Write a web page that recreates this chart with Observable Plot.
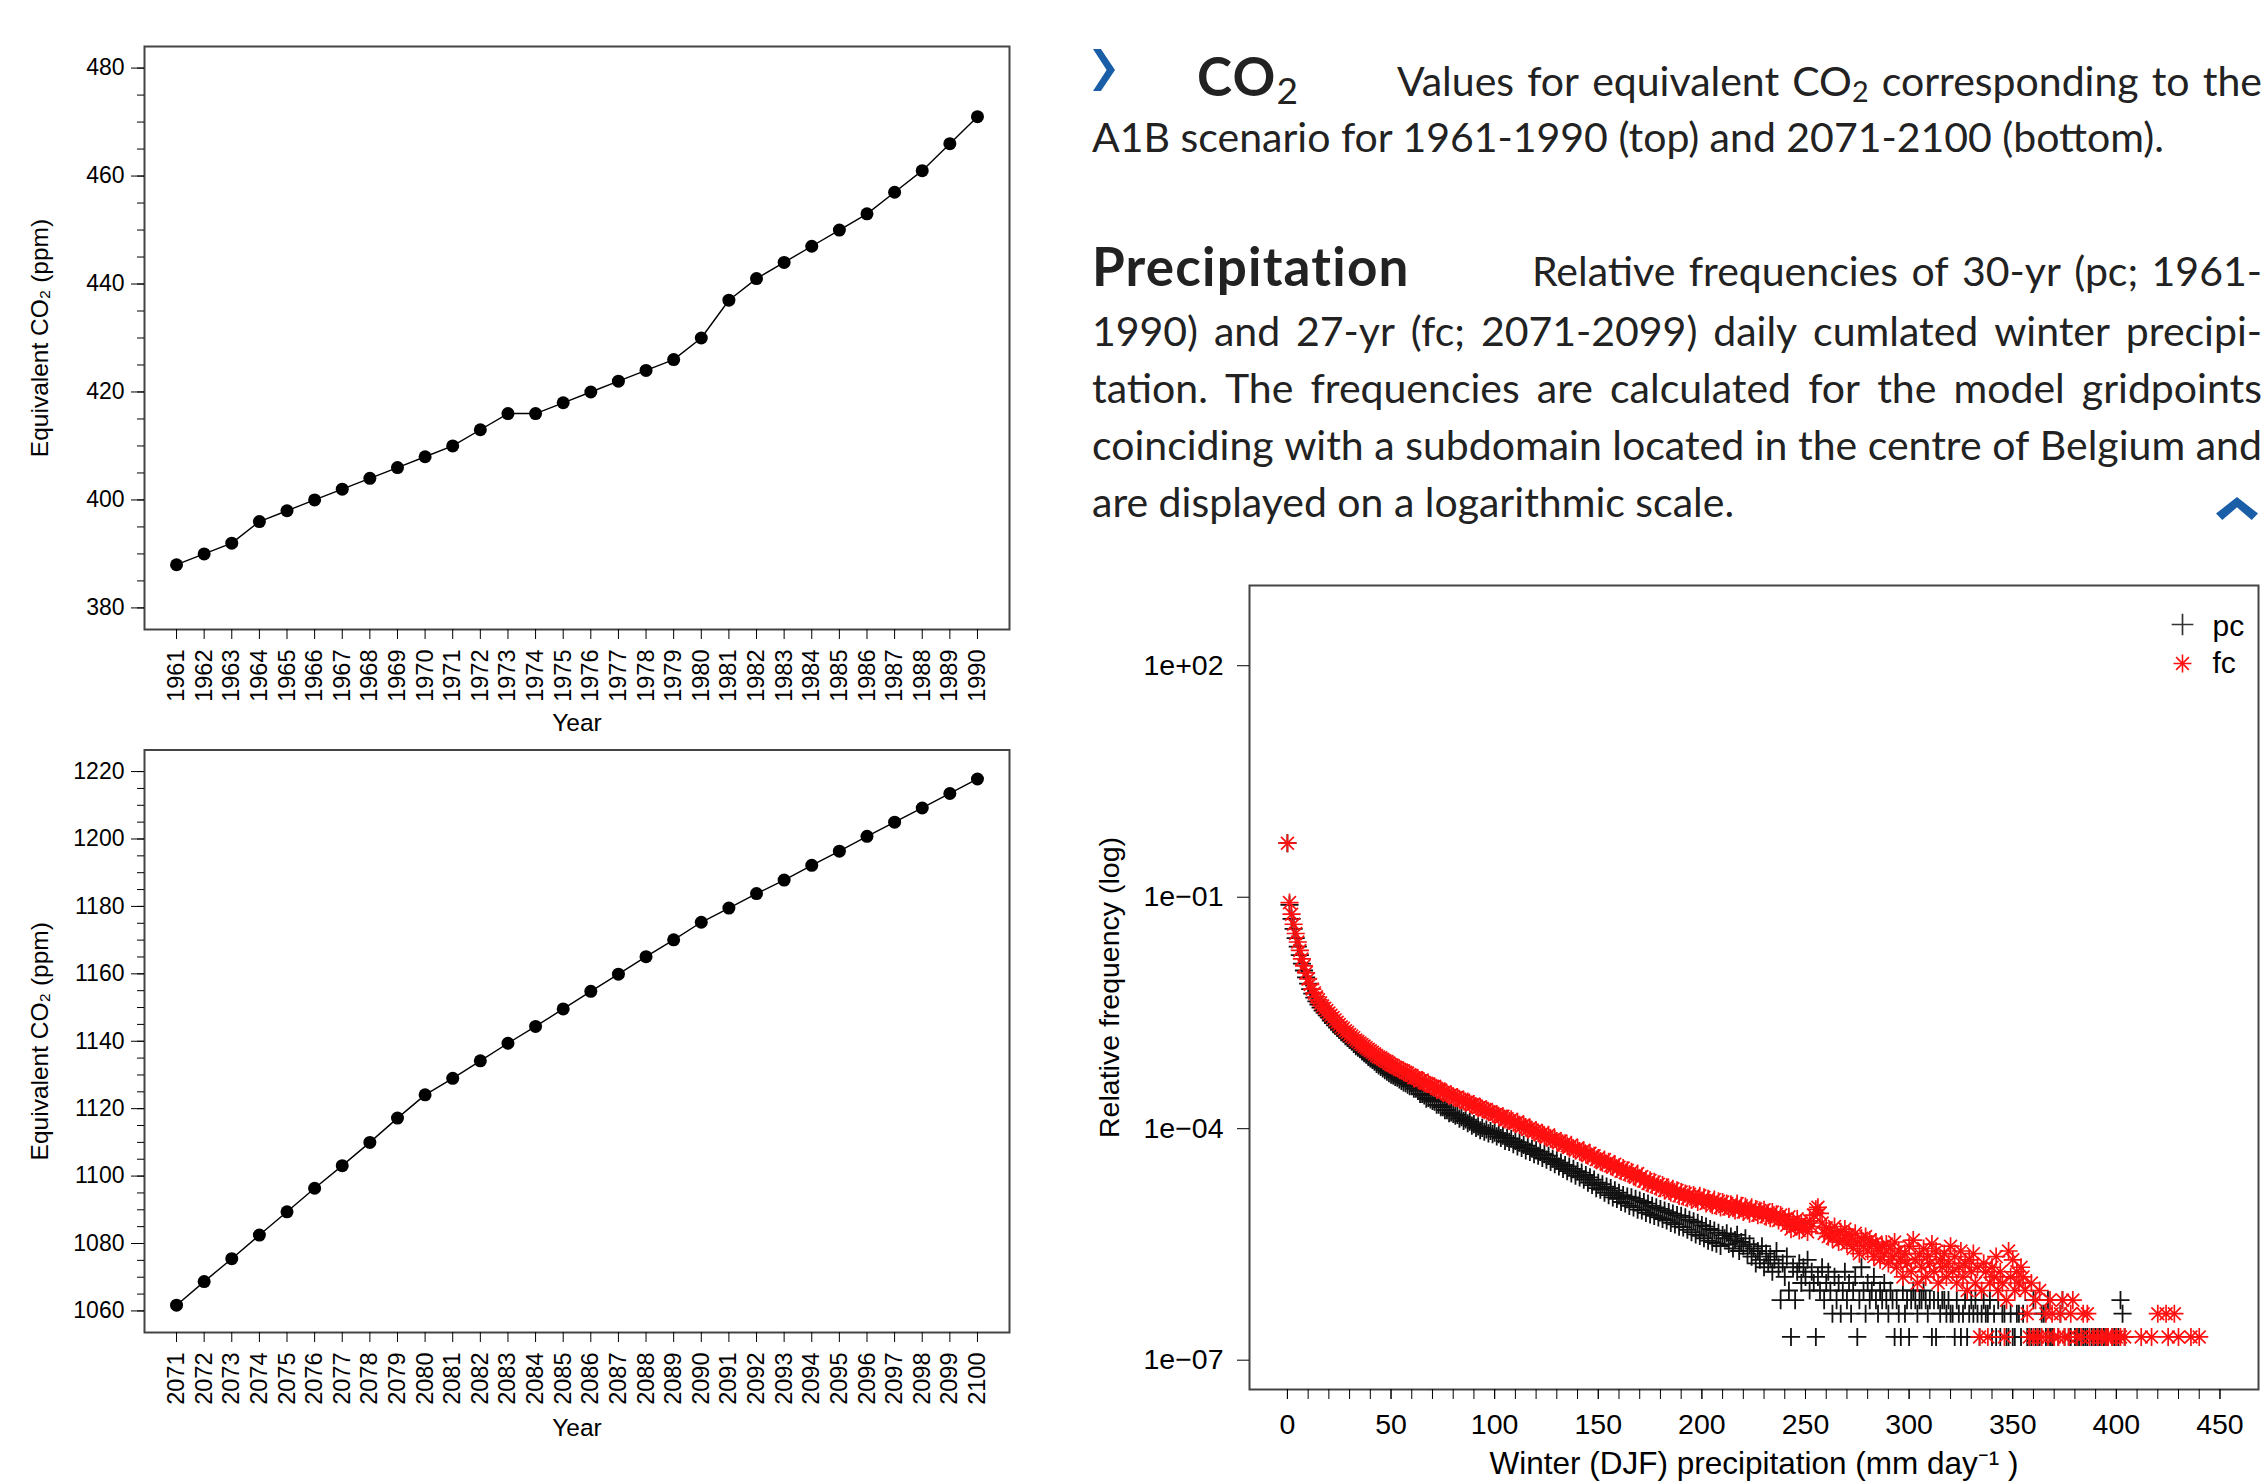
<!DOCTYPE html>
<html><head><meta charset="utf-8">
<script src="https://cdn.jsdelivr.net/npm/d3@7"></script>
<script src="https://cdn.jsdelivr.net/npm/@observablehq/plot@0.6"></script>
<style>
html,body{margin:0;padding:0;background:#fff;}
#page{position:relative;width:2262px;height:1484px;overflow:hidden;background:#fff;}
.abs{position:absolute;}
.txt{position:absolute;font-family:Lato,'Open Sans',sans-serif;font-size:41px;line-height:41px;color:#222;white-space:nowrap;}
.head{font-weight:700;font-size:53px;line-height:53px;letter-spacing:1.2px;}
.just{display:flex;justify-content:space-between;}
sub{font-size:0.7em;vertical-align:-0.22em;line-height:0;font-weight:400;letter-spacing:0;}
.chev{position:absolute;background:#1a5ea8;clip-path:polygon(0 0,36% 0,100% 50%,36% 100%,0 100%,62% 50%);}
.upchev{position:absolute;background:#1a5ea8;clip-path:polygon(0 72%,50% 0,100% 72%,85% 100%,50% 45%,15% 100%);}
</style></head>
<body><div id="page">
<div class="chev" style="left:1093px;top:49px;width:22px;height:42px;"></div>
<div class="txt head" style="left:1197px;top:49px;">CO<sub>2</sub></div>
<div class="txt just" style="left:1397px;top:59.6px;width:865px;">Values for equivalent CO<sub>2</sub> corresponding to the</div>
<div class="txt" style="left:1092px;top:115.6px;">A1B scenario for 1961-1990 (top) and 2071-2100 (bottom).</div>
<div class="txt head" style="left:1092px;top:239px;">Precipitation</div>
<div class="txt just" style="left:1532px;top:249.6px;width:730px;">Relative frequencies of 30-yr (pc; 1961-</div>
<div class="txt just" style="left:1092px;top:309.6px;width:1170px;">1990) and 27-yr (fc; 2071-2099) daily cumlated winter precipi-</div>
<div class="txt just" style="left:1092px;top:366.6px;width:1170px;">tation. The frequencies are calculated for the model gridpoints</div>
<div class="txt just" style="left:1092px;top:423.6px;width:1170px;">coinciding with a subdomain located in the centre of Belgium and</div>
<div class="txt" style="left:1092px;top:480.6px;">are displayed on a logarithmic scale.</div>
<div class="upchev" style="left:2216px;top:497px;width:42px;height:23px;"></div>
<div id="c1" class="abs" style="left:0;top:0;width:1050px;height:740px;"></div>
<div id="c2" class="abs" style="left:0;top:700px;width:1050px;height:784px;"></div>
<div id="c3" class="abs" style="left:1080px;top:560px;width:1182px;height:924px;"></div>
</div>
<script>
// ---------- CO2 data ----------
const topYears = [1961,1962,1963,1964,1965,1966,1967,1968,1969,1970,1971,1972,1973,1974,1975,1976,1977,1978,1979,1980,1981,1982,1983,1984,1985,1986,1987,1988,1989,1990];
const topCO2 = [388,390,392,396,398,400,402,404,406,408,410,413,416,416,418,420,422,424,426,430,437,441,444,447,450,453,457,461,466,471];
const bottomYears = [2071,2072,2073,2074,2075,2076,2077,2078,2079,2080,2081,2082,2083,2084,2085,2086,2087,2088,2089,2090,2091,2092,2093,2094,2095,2096,2097,2098,2099,2100];
const bottomCO2 = [1061.7,1068.7,1075.5,1082.5,1089.4,1096.4,1103.1,1110.0,1117.2,1124.1,1129.0,1134.2,1139.4,1144.4,1149.6,1154.8,1159.9,1165.1,1170.1,1175.3,1179.5,1183.8,1187.8,1192.2,1196.4,1200.8,1205.0,1209.2,1213.5,1217.8];
const topMajorTicks = [380,400,420,440,460,480];
const topMinorTicks = [380,385,390,395,400,405,410,415,420,425,430,435,440,445,450,455,460,465,470,475,480];
const bottomMajorTicks = [1060,1080,1100,1120,1140,1160,1180,1200,1220];
const bottomMinorTicks = [1060,1065,1070,1075,1080,1085,1090,1095,1100,1105,1110,1115,1120,1125,1130,1135,1140,1145,1150,1155,1160,1165,1170,1175,1180,1185,1190,1195,1200,1205,1210,1215,1220];
const co2Label = "Equivalent CO₂ (ppm)";
const yearLabel = "Year";

// ---------- Precipitation data (log10 relative frequency, one value per mm, from 0) ----------
const pcDense = [
-0.30,-1.10,-1.28,-1.41,-1.53,-1.64,-1.75,-1.86,-1.95,-2.04,
-2.12,-2.19,-2.25,-2.30,-2.35,-2.39,-2.43,-2.47,-2.50,-2.53,
-2.56,-2.60,-2.63,-2.66,-2.69,-2.72,-2.75,-2.77,-2.80,-2.82,
-2.85,-2.87,-2.90,-2.93,-2.95,-2.97,-3.00,-3.02,-3.04,-3.07,
-3.09,-3.11,-3.13,-3.16,-3.18,-3.20,-3.22,-3.24,-3.26,-3.28,
-3.30,-3.31,-3.33,-3.34,-3.36,-3.38,-3.40,-3.41,-3.43,-3.45,
-3.45,-3.48,-3.48,-3.51,-3.55,-3.55,-3.57,-3.61,-3.60,-3.62,
-3.64,-3.65,-3.69,-3.69,-3.72,-3.72,-3.76,-3.76,-3.80,-3.79,
-3.81,-3.83,-3.82,-3.87,-3.85,-3.90,-3.88,-3.93,-3.91,-3.96,
-3.94,-3.99,-3.97,-4.02,-3.99,-4.04,-4.01,-4.06,-4.03,-4.07,
-4.05,-4.10,-4.07,-4.12,-4.09,-4.16,-4.12,-4.17,-4.13,-4.20,
-4.16,-4.23,-4.18,-4.25,-4.21,-4.28,-4.22,-4.30,-4.26,-4.33,
-4.28,-4.35,-4.30,-4.38,-4.33,-4.40,-4.35,-4.43,-4.39,-4.46,
-4.41,-4.49,-4.44,-4.52,-4.47,-4.55,-4.49,-4.58,-4.52,-4.61,
-4.55,-4.63,-4.57,-4.66,-4.60,-4.70,-4.63,-4.73,-4.66,-4.77,
-4.70,-4.79,-4.72,-4.83,-4.75,-4.86,-4.77,-4.89,-4.80,-4.91,
-4.83,-4.95,-4.86,-4.97,-4.88,-5.00,-4.89,-5.02,-4.91,-5.05,
-4.93,-5.06,-4.95,-5.09,-4.97,-5.11,-5.00,-5.13,-5.02,-5.15,
-5.04,-5.17,-5.06,-5.19,-5.08,-5.22,-5.10,-5.24,-5.12,-5.27,
-5.13,-5.28,-5.15,-5.31,-5.18,-5.34,-5.20,-5.37,-5.22,-5.39,
-5.25,-5.42,-5.27,-5.45,-5.30,-5.47,-5.32,-5.49,-5.35,-5.52,-5.38];
const fcDense = [
-0.30,-1.07,-1.22,-1.35,-1.47,-1.58,-1.69,-1.80,-1.89,-1.98,
-2.06,-2.13,-2.19,-2.24,-2.29,-2.33,-2.37,-2.41,-2.44,-2.47,
-2.50,-2.53,-2.56,-2.59,-2.62,-2.65,-2.68,-2.70,-2.73,-2.75,
-2.78,-2.80,-2.82,-2.85,-2.87,-2.89,-2.91,-2.93,-2.95,-2.97,
-2.99,-3.01,-3.03,-3.05,-3.07,-3.08,-3.10,-3.12,-3.13,-3.15,
-3.17,-3.18,-3.20,-3.21,-3.23,-3.24,-3.25,-3.27,-3.28,-3.30,
-3.31,-3.34,-3.34,-3.35,-3.38,-3.37,-3.40,-3.41,-3.42,-3.44,
-3.45,-3.45,-3.48,-3.49,-3.50,-3.53,-3.52,-3.55,-3.57,-3.56,
-3.58,-3.60,-3.59,-3.62,-3.63,-3.63,-3.66,-3.65,-3.68,-3.69,
-3.68,-3.71,-3.73,-3.72,-3.74,-3.76,-3.75,-3.78,-3.78,-3.80,
-3.82,-3.81,-3.84,-3.85,-3.84,-3.88,-3.87,-3.90,-3.88,-3.92,
-3.93,-3.91,-3.95,-3.97,-3.95,-3.98,-4.01,-3.99,-4.02,-4.04,
-4.02,-4.05,-4.08,-4.06,-4.09,-4.11,-4.08,-4.13,-4.15,-4.13,
-4.16,-4.18,-4.16,-4.21,-4.19,-4.22,-4.24,-4.21,-4.26,-4.28,
-4.25,-4.29,-4.31,-4.28,-4.33,-4.35,-4.32,-4.37,-4.35,-4.40,
-4.38,-4.42,-4.44,-4.40,-4.46,-4.43,-4.48,-4.50,-4.46,-4.52,
-4.50,-4.55,-4.51,-4.57,-4.54,-4.59,-4.56,-4.61,-4.63,-4.58,
-4.65,-4.62,-4.68,-4.66,-4.71,-4.67,-4.73,-4.69,-4.75,-4.72,
-4.77,-4.73,-4.80,-4.76,-4.79,-4.83,-4.78,-4.84,-4.80,-4.87,
-4.82,-4.88,-4.84,-4.90,-4.85,-4.92,-4.86,-4.91,-4.95,-4.87,
-4.93,-4.89,-4.97,-4.91,-4.96,-4.99,-4.92,-5.00,-4.94,-5.02,
-4.95,-5.01,-4.97,-5.04,-4.98,-5.03,-5.06,-4.97,-5.05,-5.00,
-5.08,-5.01,-5.06,-5.10,-5.02,-5.09,-5.04,-5.12,-5.06,-5.11,
-5.05,-5.14,-5.09,-5.16,-5.08,-5.15,-5.11,-5.19,-5.12,-5.17];
// sparse tails: [precipitation (mm/day), number of days]; one day = unitFreq
const unitFreq = 2.0e-7;
const pcTail = [[211,19],[212,22],[213,16],[214,20],[215,14],[216,18],[217,21],[218,13],[219,17],[220,15],
[221,19],[222,12],[223,16],[224,11],[225,14],[226,9],[227,13],[228,10],[229,15],[230,8],
[231,12],[232,9],[233,11],[234,7],[235,10],[236,13],[237,8],[238,3],[239,9],[240,6],
[241,11],[242,4],[243,1],[244,8],[245,3],[246,7],[247,9],[248,5],[249,8],[250,6],
[251,10],[252,4],[253,7],[254,5],[255,1],[256,6],[257,4],[258,8],[259,3],[260,5],
[261,7],[262,4],[263,2],[264,6],[265,3],[266,5],[267,2],[268,4],[269,7],[270,3],
[271,5],[272,2],[273,4],[274,6],[275,1],[276,3],[277,8],[278,4],[279,2],[280,5],
[281,3],[282,4],[283,6],[284,3],[285,2],[286,4],[287,3],[288,5],[289,3],[290,2],
[291,4],[292,3],[293,1],[294,3],[295,2],[296,1],[297,4],[298,2],[299,3],[300,1],
[301,3],[302,4],[303,3],[304,2],[305,3],[306,3],[307,4],[308,3],[309,2],[310,3],
[311,1],[312,3],[313,1],[314,3],[315,2],[316,3],[317,3],[318,2],[319,3],[320,2],
[321,2],[322,1],[323,3],[324,2],[325,1],[326,2],[327,3],[328,1],[329,2],[330,3],
[331,2],[332,3],[333,2],[334,1],[335,2],[336,3],[337,2],[338,2],[339,3],[340,1],
[341,2],[342,1],[343,3],[344,1],[345,2],[346,2],[347,1],[348,1],[349,2],[350,1],
[351,1],[352,2],[353,2],[354,1],[355,2],[357,1],[358,1],[359,1],[360,3],[361,1],
[362,1],[363,1],[364,2],[365,2],[366,1],[367,3],[368,1],[369,1],[370,1],[372,1],
[373,2],[374,3],[375,1],[377,1],[378,1],[380,1],[381,1],[382,1],[384,1],[385,1],
[386,1],[388,1],[389,1],[390,1],[391,1],[392,1],[394,1],[395,1],[396,1],[398,1],
[399,1],[400,1],[401,1],[402,3],[403,2],[404,1]];
const fcTail = [[240,33],[241,28],[242,36],[243,25],[244,31],[245,27],[246,34],[247,24],[248,30],[249,26],
[250,29],[251,23],[252,32],[253,27],[254,38],[255,45],[256,48],[257,40],[258,30],[259,22],
[260,26],[261,20],[262,24],[263,19],[264,27],[265,21],[266,17],[267,23],[268,18],[269,25],
[270,16],[271,21],[272,19],[273,14],[274,22],[275,17],[276,12],[277,19],[278,15],[279,20],
[280,13],[281,18],[282,16],[283,11],[284,17],[285,14],[286,10],[287,15],[288,12],[289,16],
[290,9],[291,14],[292,11],[293,17],[294,8],[295,13],[296,10],[297,6],[298,12],[299,9],
[300,15],[301,7],[302,18],[303,10],[304,5],[305,12],[306,8],[307,14],[308,6],[309,11],
[310,9],[311,16],[312,7],[313,13],[314,5],[315,10],[316,8],[317,12],[318,6],[319,9],
[320,15],[321,7],[322,11],[323,5],[324,8],[325,13],[326,6],[327,9],[328,4],[329,10],
[330,7],[331,12],[332,5],[333,8],[334,1],[335,4],[336,9],[337,7],[338,1],[339,5],
[340,8],[341,6],[342,11],[343,4],[344,7],[345,5],[346,1],[347,3],[348,13],[349,6],
[350,10],[351,4],[352,7],[353,5],[354,8],[355,6],[356,4],[357,2],[358,1],[359,5],
[360,1],[361,3],[362,1],[363,4],[364,1],[366,2],[367,1],[368,3],[369,2],[370,1],
[372,1],[373,2],[374,3],[375,1],[377,1],[378,2],[379,3],[381,1],[383,1],[384,2],
[386,2],[387,1],[389,1],[391,1],[393,1],[395,1],[396,1],[398,1],[400,1],[402,1],
[404,1],[412,1],[417,1],[420,2],[424,2],[425,1],[428,2],[430,1],[436,1],[440,1]];
const precipXTicks = [0,50,100,150,200,250,300,350,400,450];
const precipYTicks = [1e2,1e-1,1e-4,1e-7];
const precipYTickLabels = ["1e+02","1e\u221201","1e\u221204","1e\u221207"];
const precipXLabel = "Winter (DJF) precipitation (mm day\u207B\u00B9 )";
const precipYLabel = "Relative frequency (log)";
const legendLabels = ["pc","fc"];

// ---------- text justification ----------
document.querySelectorAll('.just').forEach(el => {
  const words = el.innerHTML.trim().split(/\s+/);
  el.innerHTML = words.map(w => `<span>${w}</span>`).join('');
});

// ---------- CO2 charts ----------
function co2Chart({years, values, yDomain, xDomain, majors, minors, height, marginTop, marginBottom, yearDy}) {
  const data = years.map((year, i) => ({year, value: values[i]}));
  return Plot.plot({
    width: 1050, height, marginLeft: 144, marginRight: 41, marginTop, marginBottom,
    style: "font-family:'Liberation Sans',Arial,sans-serif;font-size:23px;color:#000;background:transparent;max-width:none;overflow:visible;",
    x: {domain: xDomain},
    y: {domain: yDomain},
    marks: [
      Plot.frame({stroke: "#444", strokeWidth: 2}),
      Plot.axisY(minors, {tickSize: 7, tickFormat: () => "", label: null}),
      Plot.axisY(majors, {tickSize: 13, tickPadding: 7, tickFormat: d => String(d), label: null}),
      Plot.axisX(years, {tickSize: 10, tickPadding: 10, tickRotate: -90, fontSize: 23.5, tickFormat: d => String(d), label: null}),
      Plot.text([co2Label], {frameAnchor: "left", dx: -104, rotate: -90, fontSize: 24.5, textAnchor: "middle", lineAnchor: "middle"}),
      Plot.text([yearLabel], {frameAnchor: "bottom", dy: yearDy, fontSize: 24.5, textAnchor: "middle", lineAnchor: "middle"}),
      Plot.line(data, {x: "year", y: "value", stroke: "#000", strokeWidth: 1.4}),
      Plot.dot(data, {x: "year", y: "value", r: 6.5, fill: "#000", stroke: "none"})
    ]
  });
}
document.getElementById("c1").append(co2Chart({
  years: topYears, values: topCO2, yDomain: [376, 484], xDomain: [1959.84, 1991.16],
  majors: topMajorTicks, minors: topMinorTicks, height: 740, marginTop: 46, marginBottom: 111, yearDy: 94
}));
document.getElementById("c2").append(co2Chart({
  years: bottomYears, values: bottomCO2, yDomain: [1053.6, 1226.4], xDomain: [2069.84, 2101.16],
  majors: bottomMajorTicks, minors: bottomMinorTicks, height: 784, marginTop: 49.5, marginBottom: 152, yearDy: 96
}));

// ---------- Precipitation chart ----------
const pcPoints = pcDense.map((v, i) => ({x: i, f: Math.pow(10, v)}))
  .concat(pcTail.map(([x, k]) => ({x, f: k * unitFreq})));
const fcPoints = fcDense.map((v, i) => ({x: i, f: Math.pow(10, v)}))
  .concat(fcTail.map(([x, k]) => ({x, f: k * unitFreq})));
const minorX = d3.range(0, 451, 10);

const red = "#ff1010";
const precip = Plot.plot({
  width: 1182, height: 924, marginLeft: 169, marginRight: 4, marginTop: 25, marginBottom: 95,
  style: "font-family:'Liberation Sans',Arial,sans-serif;font-size:28.5px;color:#000;background:transparent;max-width:none;overflow:visible;",
  x: {domain: [-18.3, 468.6]},
  y: {type: "log", domain: [Math.pow(10, -7.38), Math.pow(10, 3.04)]},
  marks: [
    Plot.frame({stroke: "#444", strokeWidth: 2}),
    Plot.axisY(precipYTicks, {tickSize: 12, tickPadding: 14, tickFormat: d => precipYTickLabels[precipYTicks.indexOf(d)], label: null}),
    Plot.axisX(minorX, {tickSize: 10, tickFormat: () => "", label: null}),
    Plot.axisX(precipXTicks, {tickSize: 10, tickPadding: 14, tickFormat: d => String(d), label: null}),
    Plot.text([precipYLabel], {frameAnchor: "left", dx: -140, rotate: -90, fontSize: 28.5, textAnchor: "middle", lineAnchor: "middle"}),
    Plot.text([precipXLabel], {frameAnchor: "bottom", dy: 74, fontSize: 31.5, textAnchor: "middle", lineAnchor: "middle"}),
    Plot.dot(pcPoints, {x: "x", y: "f", symbol: "plus", r: 5.9, stroke: "#111", fill: "none", strokeWidth: 1.8}),
    Plot.dot(fcPoints, {x: "x", y: "f", symbol: "plus", r: 5.9, stroke: red, fill: "none", strokeWidth: 1.7}),
    Plot.dot(fcPoints, {x: "x", y: "f", symbol: "times", r: 5.9, stroke: red, fill: "none", strokeWidth: 1.7}),
    // legend
    Plot.dot([legendLabels[0]], {frameAnchor: "top-right", dx: -76, dy: 39, symbol: "plus", r: 7.04, stroke: "#333", fill: "none", strokeWidth: 1.7}),
    Plot.dot([legendLabels[1]], {frameAnchor: "top-right", dx: -76, dy: 78, symbol: "plus", r: 5.85, stroke: red, fill: "none", strokeWidth: 1.6}),
    Plot.dot([legendLabels[1]], {frameAnchor: "top-right", dx: -76, dy: 78, symbol: "times", r: 5.85, stroke: red, fill: "none", strokeWidth: 1.6}),
    Plot.text([legendLabels[0]], {frameAnchor: "top-right", dx: -46, dy: 41, fontSize: 30, textAnchor: "start", lineAnchor: "middle"}),
    Plot.text([legendLabels[1]], {frameAnchor: "top-right", dx: -46, dy: 78, fontSize: 30, textAnchor: "start", lineAnchor: "middle"})
  ]
});
document.getElementById("c3").append(precip);
</script>
</body></html>
